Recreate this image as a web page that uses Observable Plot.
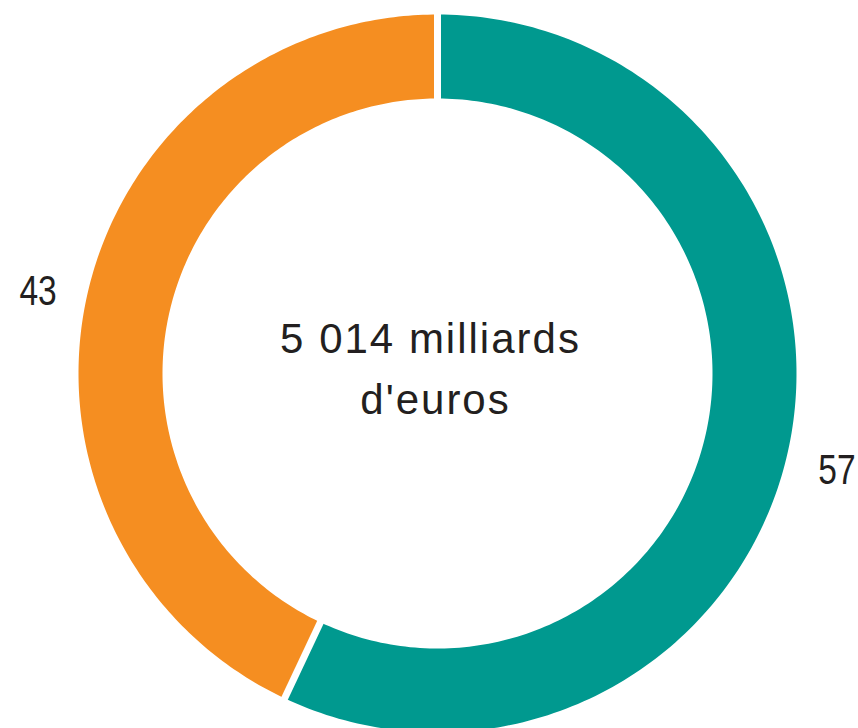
<!DOCTYPE html>
<html>
<head>
<meta charset="utf-8">
<script src="https://cdn.jsdelivr.net/npm/d3@7"></script>
<script src="https://cdn.jsdelivr.net/npm/@observablehq/plot@0.6"></script>
<style>
  html, body { margin: 0; padding: 0; background: #fff; }
  g[font-size="42"] { letter-spacing: 2px; }
</style>
</head>
<body>
<div id="chart"></div>
<script>
// Data
const categories = ["B", "A"];
const values = [57, 43];
const colors = ["#00998F", "#F58E21"];
const centerText = ["5 014 milliards", "d'euros"];

// Geometry (unit = outer radius)
const innerRatio = 275 / 359;
const labelRadius = 1.14;
const total = d3.sum(values);

let cum = 0;
const slices = values.map((v, i) => {
  const a0 = cum / total * 2 * Math.PI;
  cum += v;
  const a1 = cum / total * 2 * Math.PI;
  return {category: categories[i], value: v, a0, a1, color: colors[i]};
});

// polygon points for each ring slice (angles clockwise from top)
const ringPoints = [];
for (const s of slices) {
  const n = 200;
  for (let k = 0; k <= n; k++) {
    const a = s.a0 + (s.a1 - s.a0) * k / n;
    ringPoints.push({category: s.category, x: Math.sin(a), y: Math.cos(a)});
  }
  for (let k = n; k >= 0; k--) {
    const a = s.a0 + (s.a1 - s.a0) * k / n;
    ringPoints.push({category: s.category, x: innerRatio * Math.sin(a), y: innerRatio * Math.cos(a)});
  }
}

const separators = slices.map(s => ({
  x1: (innerRatio - 0.05) * Math.sin(s.a0), y1: (innerRatio - 0.05) * Math.cos(s.a0),
  x2: 1.05 * Math.sin(s.a0), y2: 1.05 * Math.cos(s.a0)
}));

const labels = slices.map(s => {
  const m = (s.a0 + s.a1) / 2;
  return {text: String(s.value), x: labelRadius * Math.sin(m), y: labelRadius * Math.cos(m)};
});

const W = 858, H = 728, cx = 437, cy = 373, R = 359;

const chart = Plot.plot({
  width: W,
  height: H,
  margin: 0,
  x: {domain: [-cx / R, (W - cx) / R], axis: null},
  y: {domain: [(cy - H) / R, cy / R], axis: null},
  color: {domain: categories, range: colors},
  style: {background: "#fff", fontFamily: "'Liberation Sans', Arial, sans-serif"},
  marks: [
    Plot.line(ringPoints, {x: "x", y: "y", z: "category", fill: "category", stroke: "none", curve: "linear-closed"}),
    Plot.link(separators, {x1: "x1", y1: "y1", x2: "x2", y2: "y2", stroke: "#fff", strokeWidth: 7}),
    Plot.text(labels, {x: "x", y: "y", text: "text", fontSize: 43, fill: "#231f20", dy: 7}),
    Plot.text([centerText[0]], {x: [0], y: [0], text: d => d, fontSize: 42, lineAnchor: "bottom", fill: "#231f20", dx: -7, dy: -21}),
    Plot.text([centerText[1]], {x: [0], y: [0], text: d => d, fontSize: 42, lineAnchor: "bottom", fill: "#231f20", dx: -2, dy: 40})
  ]
});

// condense the percentage labels horizontally (narrow typeface in reference)
d3.select(chart).selectAll('g[font-size="43"] text').each(function() {
  const t = this.getAttribute("transform") || "";
  this.setAttribute("transform", t + " scale(0.78,1)");
});

document.getElementById("chart").appendChild(chart);
</script>
</body>
</html>
